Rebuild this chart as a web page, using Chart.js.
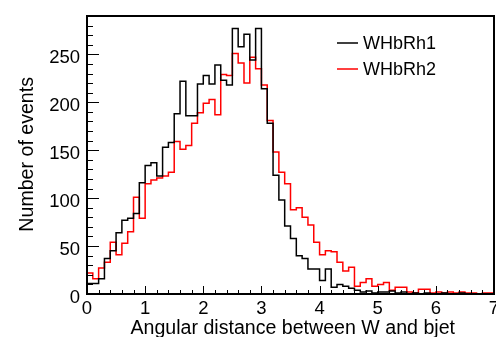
<!DOCTYPE html>
<html>
<head>
<meta charset="utf-8">
<script src="https://cdn.jsdelivr.net/npm/chart.js@4.4.1/dist/chart.umd.min.js"></script>
<style>
  html, body { margin: 0; padding: 0; background: #fff; }
  #wrap { width: 496px; height: 337px; }
</style>
</head>
<body>
<div id="wrap"><canvas id="hist"></canvas></div>
<script>
// histogram bins: 70 bins of width 0.1 from 0 to 7
const xMin = 0
const xMax = 7
const binWidth = 0.1
const xTicks = [0, 1, 2, 3, 4, 5, 6, 7]
const yTicks = [0, 50, 100, 150, 200, 250]
const yMax = 290

const whbrh1 = [
  5, 11, 11, 16, 37, 45, 64, 77, 79, 84,
  116, 134, 137, 123, 153, 158, 188, 222, 186, 186,
  219, 228, 219, 239, 223, 218, 277, 258, 271, 244,
  277, 214, 178, 124, 98, 71, 58, 40, 37, 26,
  26, 14, 26, 7, 10, 8, 6, 4, 2, 3,
  1, 2, 2, 3, 1, 2, 0, 1, 0, 1,
  0, 0, 1, 0, 0, 1, 0, 0, 0, 0
]
const whbrh2 = [
  6, 22, 16, 27, 33, 54, 41, 53, 65, 101,
  79, 115, 119, 121, 123, 127, 159, 151, 155, 178,
  189, 199, 203, 187, 229, 228, 251, 241, 220, 247,
  235, 218, 181, 148, 127, 115, 88, 90, 80, 72,
  54, 41, 45, 44, 33, 24, 28, 8, 12, 16,
  8, 10, 12, 4, 7, 7, 2, 1, 5, 5,
  1, 2, 1, 2, 1, 2, 1, 1, 0, 1
]

const FONT = '"Liberation Sans", Arial, Helvetica, sans-serif'

// turn bin contents into step points (left edge of each bin)
function toSteps(values) {
  const pts = [{x: xMin, y: 0}]
  values.forEach((v, i) => pts.push({x: xMin + i * binWidth, y: v}))
  pts.push({x: xMin + values.length * binWidth, y: values[values.length - 1]})
  return pts
}

const rootFrame = {
  id: 'rootFrame',
  afterDraw(chart) {
    const {ctx, chartArea: a, scales} = chart
    const x = scales.x, y = scales.y
    ctx.save()
    ctx.strokeStyle = '#000'
    ctx.lineWidth = 1
    ctx.beginPath()
    for (let v = 0; v <= yMax; v += 10) {
      const py = Math.round(y.getPixelForValue(v)) + 0.5
      const len = v % 50 === 0 ? 12 : 6
      ctx.moveTo(a.left, py)
      ctx.lineTo(a.left + len, py)
    }
    for (let k = 0; k <= 35; k++) {
      const px = Math.round(x.getPixelForValue(k * 0.2)) + 0.5
      const len = k % 5 === 0 ? 8 : 4
      ctx.moveTo(px, a.bottom)
      ctx.lineTo(px, a.bottom - len)
    }
    ctx.stroke()

    ctx.lineWidth = 2
    ctx.strokeRect(a.left, a.top, a.right - a.left, a.bottom - a.top)

    // axis titles
    ctx.fillStyle = '#000'
    ctx.font = '19.6px ' + FONT
    ctx.textAlign = 'right'
    ctx.textBaseline = 'alphabetic'
    ctx.fillText('Angular distance between W and bjet', 455, 334)

    ctx.save()
    ctx.translate(33, 77)
    ctx.rotate(-Math.PI / 2)
    ctx.textAlign = 'right'
    ctx.fillText('Number of events', 0, 0)
    ctx.restore()

    // legend
    ctx.font = '18px ' + FONT
    ctx.textAlign = 'left'
    ctx.textBaseline = 'middle'
    chart.data.datasets.forEach((ds, i) => {
      const ly = 43 + i * 26
      ctx.strokeStyle = ds.borderColor
      ctx.lineWidth = 1.5
      ctx.beginPath()
      ctx.moveTo(337, ly)
      ctx.lineTo(358, ly)
      ctx.stroke()
      ctx.fillStyle = '#000'
      ctx.fillText(ds.label, 363, ly + 1)
    })
    ctx.restore()
  }
}

new Chart(document.getElementById('hist'), {
  type: 'line',
  data: {
    datasets: [{
      label: 'WHbRh1',
      data: toSteps(whbrh1),
      borderColor: '#000000',
      borderWidth: 1.5,
      stepped: 'after',
      pointRadius: 0,
      fill: false
    }, {
      label: 'WHbRh2',
      data: toSteps(whbrh2),
      borderColor: '#ff0000',
      borderWidth: 1.5,
      stepped: 'after',
      pointRadius: 0,
      fill: false
    }]
  },
  options: {
    responsive: true,
    maintainAspectRatio: false,
    animation: false,
    layout: { padding: { top: 16, right: 2, left: 0, bottom: 0 } },
    plugins: {
      legend: { display: false },
      tooltip: { enabled: false }
    },
    scales: {
      x: {
        type: 'linear',
        min: xMin,
        max: xMax,
        grid: { display: false, drawTicks: false },
        border: { display: false },
        ticks: {
          color: '#000',
          font: { family: FONT, size: 18.5 },
          padding: 4,
          maxRotation: 0
        },
        afterBuildTicks: s => { s.ticks = xTicks.map(v => ({value: v})) },
        afterFit: s => { s.height = 43; s.paddingLeft = 0; s.paddingRight = 0 }
      },
      y: {
        min: 0,
        max: yMax,
        grid: { display: false, drawTicks: false },
        border: { display: false },
        ticks: {
          color: '#000',
          font: { family: FONT, size: 18.5 },
          padding: 7,
          labelOffset: 3.5
        },
        afterBuildTicks: s => { s.ticks = yTicks.map(v => ({value: v})) },
        afterFit: s => { s.width = 87; s.paddingTop = 0; s.paddingBottom = 0 }
      }
    }
  },
  plugins: [rootFrame]
})
</script>
</body>
</html>
